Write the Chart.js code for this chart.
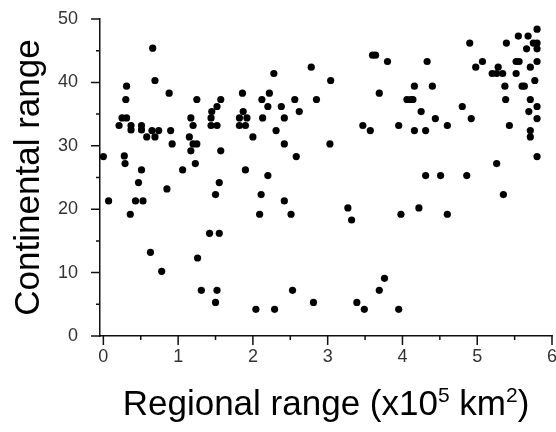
<!DOCTYPE html>
<html>
<head>
<meta charset="utf-8">
<script src="https://cdn.jsdelivr.net/npm/chart.js@4.4.1/dist/chart.umd.min.js"></script>
<style>
  html, body { margin: 0; padding: 0; background: #fff; }
  #wrap { width: 556px; height: 432px; }
</style>
</head>
<body>
<div id="wrap"><canvas id="chart"></canvas></div>
<script>
// Regional range (x10^5 km^2) vs continental range
var regional = [
  0.00, 0.07, 0.21, 0.25, 0.31, 0.30, 0.31, 0.28, 0.29, 0.37, 0.37, 0.36, 0.43, 0.53, 0.47,
  0.51, 0.51, 0.51, 0.58, 0.66, 0.69, 0.65, 0.69, 0.74, 0.63, 0.78, 0.85, 0.88, 0.90, 0.92,
  1.06, 1.15, 1.17, 1.20, 1.17, 1.20, 1.25, 1.25, 1.23, 1.26, 1.31,
  1.57, 1.52, 1.45, 1.44, 1.44, 1.52, 1.57, 1.55, 1.50, 1.42, 1.55, 1.52, 1.50,
  1.86, 1.87, 1.82, 1.92, 1.82, 1.90, 2.00, 1.90, 2.12, 2.22, 2.28, 2.20, 2.13, 2.31, 2.20,
  2.11, 2.09, 2.04, 2.29, 2.38, 2.42, 2.42, 2.42, 2.51, 2.53, 2.56, 2.62, 2.58,
  2.78, 2.85, 3.04, 3.03, 2.81, 3.27, 3.32, 3.39, 3.49, 3.47, 3.57, 3.60, 3.64, 3.69, 3.80,
  3.69, 3.76, 3.95, 3.95, 3.98,
  4.33, 4.16, 4.40, 4.06, 4.11, 4.14, 4.25, 4.44, 4.16, 4.31, 4.60, 4.31, 4.51, 4.22, 4.60,
  4.80, 4.92, 4.86, 4.90, 4.98, 5.07, 5.39, 5.28, 5.20, 5.26, 5.34, 5.52, 5.56, 5.52, 5.55,
  5.68, 5.80, 5.75, 5.80, 5.66, 5.80, 5.80, 5.71, 5.37, 5.60, 5.63, 5.77, 5.38, 5.71, 5.80,
  5.69, 5.80, 5.43, 5.71, 5.71, 5.80, 5.26, 5.35
];
var continental = [
  28.3, 21.3, 33.2, 34.4, 34.4, 37.3, 39.4, 28.4, 27.2, 33.2, 32.5, 19.2, 21.3, 21.3, 24.2,
  33.2, 32.5, 26.2, 31.4, 45.4, 40.3, 32.4, 31.4, 32.4, 13.2, 10.2, 23.2, 38.3, 32.4, 30.3,
  26.2, 31.4, 34.4, 33.2, 29.2, 30.3, 30.3, 37.3, 27.2, 12.3, 7.2,
  37.3, 36.2, 35.4, 34.4, 33.2, 33.2, 29.2, 24.2, 22.3, 16.2, 16.2, 7.2, 5.3,
  38.3, 35.4, 34.4, 34.4, 33.2, 33.2, 31.4, 26.2, 37.3, 38.3, 41.4, 36.2, 34.4, 32.4, 25.3,
  22.3, 19.2, 4.2, 4.2, 36.2, 34.4, 30.3, 21.3, 19.2, 7.2, 37.3, 35.4, 28.3,
  42.4, 37.3, 40.3, 30.3, 5.3, 20.2, 18.3, 5.3, 4.2, 33.2, 32.4, 44.3, 44.3, 38.3, 43.3,
  7.2, 9.1, 4.2, 33.2, 19.2,
  43.3, 39.4, 39.4, 37.3, 37.3, 37.3, 35.4, 34.3, 32.4, 32.4, 33.2, 25.3, 25.3, 20.2, 19.2,
  36.2, 34.3, 25.3, 46.2, 42.4, 43.3, 46.2, 42.4, 41.4, 41.4, 41.4, 43.3, 43.3, 41.4, 47.3,
  47.3, 48.4, 46.2, 46.2, 45.3, 45.3, 43.3, 42.4, 39.4, 39.4, 39.4, 40.3, 37.3, 37.3, 36.2,
  35.4, 34.3, 33.2, 32.4, 31.4, 28.3, 27.2, 22.3
];

var xTicks = [0, 1, 2, 3, 4, 5, 6];
var yTicks = [0, 10, 20, 30, 40, 50];

var points = regional.map(function(x, i) {
  return { x: x, y: continental[i] };
});

var FONT = 'Liberation Sans, Arial, sans-serif';

// ticks (major + minor), tick labels and the x title with real superscripts
var axisDecor = {
  id: 'axisDecor',
  afterDraw: function(chart) {
    var ctx = chart.ctx;
    var xs = chart.scales.x, ys = chart.scales.y;
    var area = chart.chartArea;
    ctx.save();
    ctx.strokeStyle = '#111';
    ctx.lineWidth = 1.5;
    ctx.beginPath();
    xTicks.forEach(function(v, i) {
      var px = xs.getPixelForValue(v);
      ctx.moveTo(px, area.bottom);
      ctx.lineTo(px, area.bottom + 9);
      if (i < xTicks.length - 1) {
        var mx = xs.getPixelForValue((v + xTicks[i + 1]) / 2);
        ctx.moveTo(mx, area.bottom);
        ctx.lineTo(mx, area.bottom + 4);
      }
    });
    yTicks.forEach(function(v, i) {
      var py = ys.getPixelForValue(v);
      ctx.moveTo(area.left, py);
      ctx.lineTo(area.left - 9, py);
      if (i < yTicks.length - 1) {
        var my = ys.getPixelForValue((v + yTicks[i + 1]) / 2);
        ctx.moveTo(area.left, my);
        ctx.lineTo(area.left - 4, my);
      }
    });
    ctx.stroke();

    // tick labels
    ctx.fillStyle = '#333';
    ctx.font = '18px ' + FONT;
    ctx.textAlign = 'center';
    ctx.textBaseline = 'middle';
    xTicks.forEach(function(v) {
      ctx.fillText(String(v), xs.getPixelForValue(v), area.bottom + 21);
    });
    ctx.textAlign = 'right';
    yTicks.forEach(function(v) {
      ctx.fillText(String(v), area.left - 22, ys.getPixelForValue(v));
    });

    // x title: Regional range (x10^5 km^2)
    var parts = [
      { t: 'Regional range (x10', sup: false },
      { t: '5', sup: true },
      { t: ' km', sup: false },
      { t: '2', sup: true },
      { t: ')', sup: false }
    ];
    var big = '35px ' + FONT, small = '21px ' + FONT;
    var total = 0;
    parts.forEach(function(p) {
      ctx.font = p.sup ? small : big;
      p.w = ctx.measureText(p.t).width;
      total += p.w;
    });
    var x = (area.left + area.right) / 2 - total / 2;
    var base = 415;
    ctx.fillStyle = '#000';
    ctx.textAlign = 'left';
    ctx.textBaseline = 'alphabetic';
    parts.forEach(function(p) {
      ctx.font = p.sup ? small : big;
      ctx.fillText(p.t, x, p.sup ? base - 13 : base);
      x += p.w;
    });
    ctx.restore();
  }
};

var ctx = document.getElementById('chart');
new Chart(ctx, {
  type: 'scatter',
  data: {
    datasets: [{
      data: points,
      backgroundColor: '#000',
      borderWidth: 0,
      pointRadius: 3.6
    }]
  },
  options: {
    responsive: true,
    maintainAspectRatio: false,
    animation: false,
    layout: { padding: { left: 0, right: 4, top: 19, bottom: 0 } },
    plugins: { legend: { display: false }, tooltip: { enabled: false } },
    scales: {
      x: {
        type: 'linear',
        min: -0.045,
        max: 6,
        afterBuildTicks: function(scale) {
          scale.ticks = xTicks.map(function(v) { return { value: v }; });
        },
        afterFit: function(scale) { scale.height = 96; },
        grid: { drawOnChartArea: false, drawTicks: false },
        border: { color: '#111', width: 1.5 },
        ticks: { display: false }
      },
      y: {
        type: 'linear',
        min: 0,
        max: 50,
        afterBuildTicks: function(scale) {
          scale.ticks = yTicks.map(function(v) { return { value: v }; });
        },
        afterFit: function(scale) { scale.width = 100; },
        grid: { drawOnChartArea: false, drawTicks: false },
        border: { color: '#111', width: 1.5 },
        ticks: { display: false },
        title: {
          display: true,
          text: 'Continental range',
          color: '#000',
          font: { family: FONT, size: 35 },
          padding: { top: 8 }
        }
      }
    }
  },
  plugins: [axisDecor]
});
</script>
</body>
</html>
